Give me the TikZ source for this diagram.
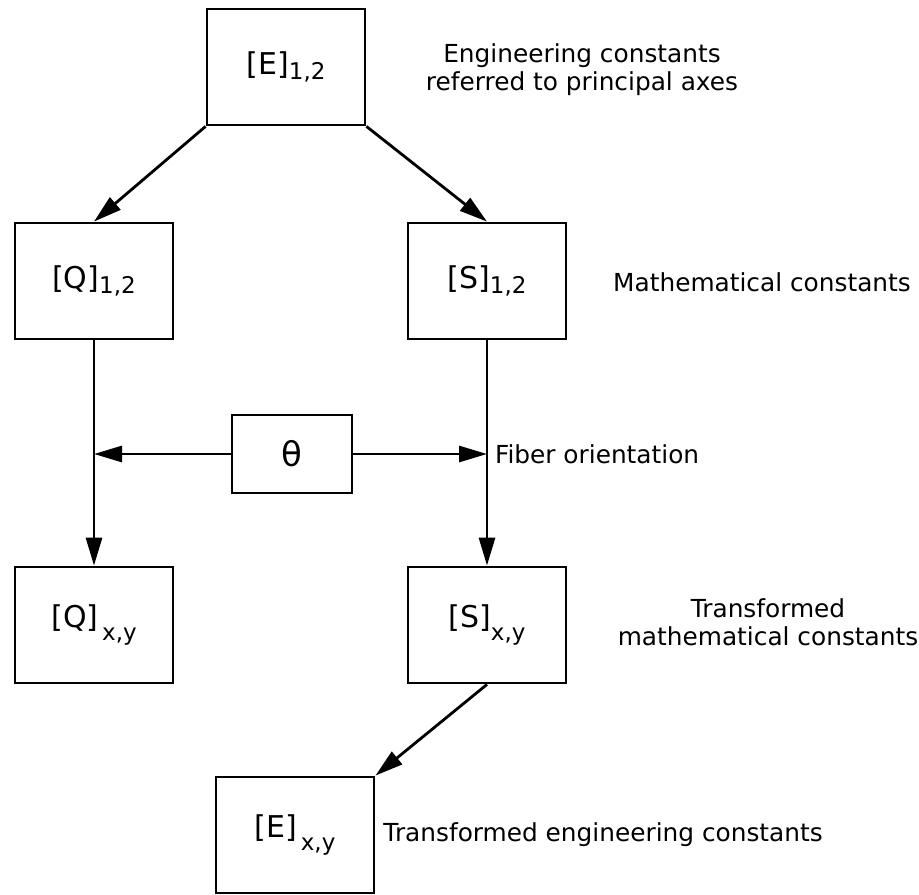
\documentclass[tikz,border=0pt]{standalone}
\usepackage{fontspec}
\setmainfont{DejaVu Sans}
\usetikzlibrary{arrows.meta}
\newcommand{\mtx}[3][.35ex]{[#2]\raisebox{-#1}{\fontsize{11.5}{11.5}\selectfont#3}}

\begin{document}
\begin{tikzpicture}[x=0.5pt,y=-0.5pt,>={Triangle[length=14pt,width=8pt]},line width=1.4pt,
  bx/.style={draw,minimum width=79pt,minimum height=58pt,inner sep=0pt,font=\fontsize{15}{15}\selectfont},
  lb/.style={font=\fontsize{12.4}{14}\selectfont,align=center}]
\useasboundingbox (0,0) rectangle (919,894);
\node[bx] (e12) at (286,67) {\mtx{E}{1,2}};
\node[bx] (q12) at (94,281) {\mtx{Q}{1,2}};
\node[bx] (s12) at (487,281) {\mtx{S}{1,2}};
\node[bx,minimum width=60pt,minimum height=39pt,font=\fontsize{17}{17}\selectfont] (th) at (292,454) {θ};
\node[bx] (qxy) at (94,625) {\mtx[.8ex]{Q}{\,x,y}};
\node[bx] (sxy) at (487,625) {\mtx[.8ex]{S}{x,y}};
\node[bx] (exy) at (295,835) {\mtx[.8ex]{E}{\,x,y}};
\coordinate (ql) at (q12.south |- th.west);
\coordinate (sr) at (s12.south |- th.west);
\draw[->] (e12.south west) -- (q12.north);
\draw[->] (e12.south east) -- (s12.north);
\draw[->] (q12) -- (qxy);
\draw[->] (s12) -- (sxy);
\draw[->] (th) -- (ql);
\draw[->] (th) -- (sr);
\draw[->] (sxy.south) -- (exy.north east);
\node[lb] (t1) at (582,70) {Engineering constants\\referred to principal axes};
\node[lb] (t2) at (762,282) {Mathematical constants};
\node[lb,right] (t3) at (sr) {Fiber orientation};
\node[lb] (t4) at (768,622) {Transformed\\mathematical constants};
\node[lb,right] (t5) at (exy.east) {Transformed engineering constants};
\end{tikzpicture}
\end{document}
